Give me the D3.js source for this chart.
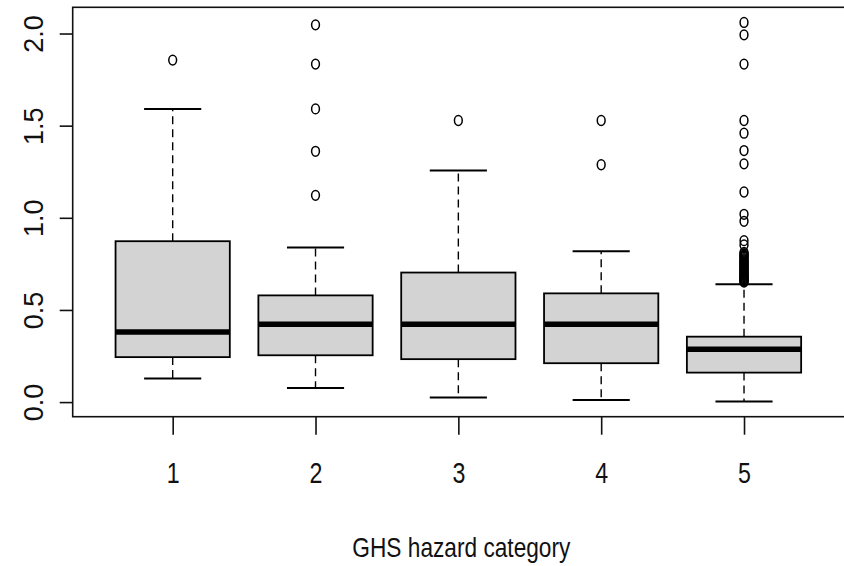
<!DOCTYPE html>
<html>
<head>
<meta charset="utf-8">
<script src="https://cdn.jsdelivr.net/npm/d3@7"></script>
<style>
  html, body { margin: 0; padding: 0; background: #fff; }
  svg { display: block; }
  text { font-family: "Liberation Sans", Arial, sans-serif; fill: #111; }
</style>
</head>
<body>
<svg id="chart" width="844" height="566"></svg>
<script>
// ---- data ----
const categories = ["1", "2", "3", "4", "5"];
const lowerWhisker = [0.128, 0.076, 0.025, 0.012, 0.003];
const q1 = [0.244, 0.254, 0.233, 0.211, 0.160];
const median = [0.381, 0.422, 0.422, 0.422, 0.287];
const q3 = [0.873, 0.579, 0.703, 0.590, 0.355];
const upperWhisker = [1.591, 0.839, 1.257, 0.819, 0.640];
const outliers1 = [1.856];
const outliers2 = [2.047, 1.834, 1.591, 1.361, 1.122];
const outliers3 = [1.528];
const outliers4 = [1.528, 1.288];
const outliers5 = [2.060, 1.993, 1.834, 1.528, 1.459, 1.365, 1.293, 1.140,
  1.019, 0.981, 0.876, 0.853,
  0.812, 0.805, 0.798, 0.792, 0.786, 0.779, 0.772, 0.766, 0.760, 0.754,
  0.748, 0.742, 0.736, 0.731, 0.725, 0.719, 0.713, 0.708, 0.702, 0.697,
  0.691, 0.686, 0.681, 0.676, 0.671, 0.667, 0.663, 0.659, 0.655, 0.651];
const yTicks = [0, 0.5, 1.0, 1.5, 2.0];
const xTitle = "GHS hazard category";

const outliers = [outliers1, outliers2, outliers3, outliers4, outliers5];

// ---- layout ----
const plot = { left: 72.7, right: 844, top: 7.3, bottom: 416.7 };
const svg = d3.select("#chart");

const allVals = [].concat(lowerWhisker, upperWhisker, ...outliers);
const [vmin, vmax] = d3.extent(allVals);
const ext = (vmax - vmin) * 0.04;
const y = d3.scaleLinear().domain([vmin - ext, vmax + ext]).range([plot.bottom, plot.top]);
const nCat = categories.length;
const xext = (nCat) * 0.04;
const x = d3.scaleLinear().domain([0.5 - xext, nCat + 0.5 + xext]).range([plot.left, plot.right]);

const boxes = categories.map((c, i) => ({
  pos: i + 1, lw: lowerWhisker[i], q1: q1[i], med: median[i], q3: q3[i], uw: upperWhisker[i], out: outliers[i]
}));

const g = svg.append("g");
const halfW = 0.4, capW = 0.2;

// whiskers (dashed)
g.selectAll(".wu").data(boxes).join("line")
  .attr("x1", d => x(d.pos)).attr("x2", d => x(d.pos))
  .attr("y1", d => y(d.q3)).attr("y2", d => y(d.uw))
  .attr("stroke", "#000").attr("stroke-width", 1.4).attr("stroke-dasharray", "8,5");
g.selectAll(".wl").data(boxes).join("line")
  .attr("x1", d => x(d.pos)).attr("x2", d => x(d.pos))
  .attr("y1", d => y(d.q1)).attr("y2", d => y(d.lw))
  .attr("stroke", "#000").attr("stroke-width", 1.4).attr("stroke-dasharray", "8,5");
// caps
g.selectAll(".cu").data(boxes).join("line")
  .attr("x1", d => x(d.pos - capW)).attr("x2", d => x(d.pos + capW))
  .attr("y1", d => y(d.uw)).attr("y2", d => y(d.uw))
  .attr("stroke", "#000").attr("stroke-width", 2);
g.selectAll(".cl").data(boxes).join("line")
  .attr("x1", d => x(d.pos - capW)).attr("x2", d => x(d.pos + capW))
  .attr("y1", d => y(d.lw)).attr("y2", d => y(d.lw))
  .attr("stroke", "#000").attr("stroke-width", 2);
// boxes
g.selectAll(".box").data(boxes).join("rect")
  .attr("x", d => x(d.pos - halfW)).attr("width", d => x(d.pos + halfW) - x(d.pos - halfW))
  .attr("y", d => y(d.q3)).attr("height", d => y(d.q1) - y(d.q3))
  .attr("fill", "#d3d3d3").attr("stroke", "#000").attr("stroke-width", 1.8);
// medians
g.selectAll(".med").data(boxes).join("line")
  .attr("x1", d => x(d.pos - halfW)).attr("x2", d => x(d.pos + halfW))
  .attr("y1", d => y(d.med)).attr("y2", d => y(d.med))
  .attr("stroke", "#000").attr("stroke-width", 5.5);
// outliers
const outPts = boxes.flatMap(d => d.out.map(v => ({ pos: d.pos, v })));
g.selectAll(".out").data(outPts).join("ellipse")
  .attr("cx", d => x(d.pos)).attr("cy", d => y(d.v))
  .attr("rx", 3.9).attr("ry", 4.9)
  .attr("fill", "none").attr("stroke", "#000").attr("stroke-width", 1.5);

// frame
svg.append("rect")
  .attr("x", plot.left).attr("y", plot.top)
  .attr("width", plot.right - plot.left + 10).attr("height", plot.bottom - plot.top)
  .attr("fill", "none").attr("stroke", "#111").attr("stroke-width", 1.6);

// y axis
const yAxis = svg.append("g").attr("transform", `translate(${plot.left},0)`)
  .call(d3.axisLeft(y).tickValues(yTicks).tickSize(13).tickFormat(d3.format(".1f")));
yAxis.select(".domain").remove();
yAxis.selectAll(".tick line").attr("stroke", "#111").attr("stroke-width", 1.6);
yAxis.selectAll(".tick text")
  .attr("x", null).attr("dy", null)
  .attr("transform", `translate(${43 - plot.left},0) rotate(-90)`)
  .attr("text-anchor", "middle")
  .style("font-size", "27px").style("font-family", "'Liberation Sans', Arial, sans-serif").attr("fill", "#111");

// x axis
const xAxis = svg.append("g").attr("transform", `translate(0,${plot.bottom})`)
  .call(d3.axisBottom(x).tickValues(boxes.map(d => d.pos)).tickSize(18).tickFormat(p => categories[p - 1]));
xAxis.select(".domain").remove();
xAxis.selectAll(".tick line").attr("stroke", "#111").attr("stroke-width", 1.6);
xAxis.selectAll(".tick text")
  .attr("y", null).attr("dy", null)
  .attr("transform", `translate(0,${483 - plot.bottom}) scale(0.8,1)`)
  .attr("text-anchor", "middle")
  .style("font-size", "29px").style("font-family", "'Liberation Sans', Arial, sans-serif").attr("fill", "#111");

// x title
svg.append("text")
  .attr("x", (plot.left + plot.right) / 2 + 3).attr("y", 557)
  .attr("text-anchor", "middle")
  .attr("textLength", 218).attr("lengthAdjust", "spacingAndGlyphs")
  .style("font-size", "27.5px")
  .text(xTitle);
</script>
</body>
</html>
